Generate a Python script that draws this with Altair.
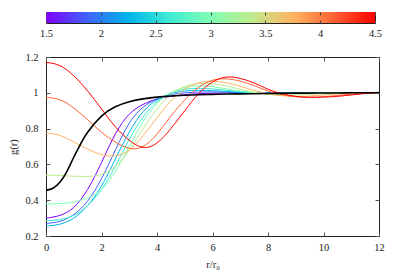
import altair as alt
import pandas as pd

# r grid (r/r0)
r = [0, 0.5, 1, 1.5, 2, 2.5, 3, 3.5, 4, 4.5, 5, 5.5, 6, 6.5, 7, 7.5, 8,
     8.5, 9, 9.5, 10, 10.5, 11, 11.5, 12]
r_black = [0, 0.25, 0.5, 0.75, 1, 1.25, 1.5, 2, 2.5, 3, 3.5, 4, 4.5, 5, 5.5, 6, 6.5, 7,
           7.5, 8, 8.5, 9, 9.5, 10, 10.5, 11, 11.5, 12]

params = [1.5, 1.875, 2.25, 2.625, 3.0, 3.375, 3.75, 4.125, 4.5]

g_15 = [0.30, 0.315, 0.36, 0.46, 0.61, 0.77, 0.88, 0.935, 0.965, 0.98, 0.99, 0.995,
        0.998, 0.999, 1.0, 1.0, 1.0, 1.0, 1.0, 1.0, 1.0, 1.0, 1.0, 1.0, 1.0]
g_1875 = [0.27, 0.282, 0.32, 0.395, 0.52, 0.68, 0.83, 0.92, 0.965, 0.99, 1.0, 1.004,
          1.005, 1.004, 1.002, 1.0, 1.0, 1.0, 1.0, 1.0, 1.0, 1.0, 1.0, 1.0, 1.0]
g_225 = [0.255, 0.266, 0.30, 0.37, 0.48, 0.63, 0.78, 0.895, 0.96, 0.995, 1.01, 1.013,
         1.012, 1.008, 1.003, 1.0, 0.999, 0.999, 1.0, 1.0, 1.0, 1.0, 1.0, 1.0, 1.0]
g_2625 = [0.285, 0.292, 0.315, 0.37, 0.46, 0.59, 0.74, 0.865, 0.95, 1.0, 1.02, 1.025,
          1.022, 1.014, 1.006, 1.0, 0.997, 0.997, 0.998, 0.999, 1.0, 1.0, 1.0, 1.0, 1.0]
g_30 = [0.38, 0.381, 0.39, 0.413, 0.46, 0.56, 0.70, 0.84, 0.94, 1.0, 1.03, 1.038,
        1.034, 1.022, 1.01, 1.0, 0.994, 0.993, 0.995, 0.997, 0.999, 1.0, 1.0, 1.0, 1.0]
g_3375 = [0.54, 0.538, 0.534, 0.533, 0.545, 0.59, 0.68, 0.80, 0.91, 0.99, 1.035, 1.052,
          1.05, 1.038, 1.02, 1.003, 0.992, 0.987, 0.988, 0.992, 0.996, 0.999, 1.0, 1.0, 1.0]
g_375 = [0.775, 0.762, 0.725, 0.685, 0.655, 0.648, 0.68, 0.76, 0.86, 0.955, 1.02, 1.055,
         1.065, 1.056, 1.037, 1.013, 0.995, 0.984, 0.98, 0.982, 0.988, 0.994, 0.998, 1.0, 1.0]
g_4125 = [0.975, 0.961, 0.915, 0.85, 0.78, 0.725, 0.69, 0.70, 0.77, 0.87, 0.96, 1.03,
          1.07, 1.078, 1.065, 1.04, 1.01, 0.99, 0.978, 0.975, 0.978, 0.985, 0.992, 0.997, 1.0]
g_45 = [1.17, 1.152, 1.095, 1.01, 0.91, 0.81, 0.735, 0.695, 0.72, 0.80, 0.90, 0.995,
        1.06, 1.088, 1.08, 1.055, 1.02, 0.995, 0.98, 0.975, 0.976, 0.98, 0.988, 0.996, 1.003]
g_black = [0.455, 0.467, 0.50, 0.56, 0.64, 0.715, 0.78, 0.87, 0.922, 0.95, 0.966, 0.976,
           0.982, 0.986, 0.989, 0.991, 0.993, 0.994, 0.995, 0.996, 0.997, 0.998, 0.998,
           0.999, 0.999, 1.0, 1.0, 1.0]

series = [g_15, g_1875, g_225, g_2625, g_30, g_3375, g_375, g_4125, g_45]

# gnuplot "rainbow" palette stops (styling)
palette = ["#8000ff", "#4062fa", "#00b4eb", "#40ebd4", "#80ffb4",
           "#bfeb8e", "#ffb462", "#ff6232", "#ff0000"]
stops_pos = [0, 0.125, 0.25, 0.375, 0.5, 0.625, 0.75, 0.875, 1.0]

cb_ticks = [1.5, 2, 2.5, 3, 3.5, 4, 4.5]
x_ticks = [0, 2, 4, 6, 8, 10, 12]
y_ticks = [0.2, 0.4, 0.6, 0.8, 1.0, 1.2]

rows = []
for p, gs in zip(params, series):
    for rv, gv in zip(r, gs):
        rows.append({"r": rv, "g": gv, "p": p})
df = pd.DataFrame(rows)
dfb = pd.DataFrame({"r": r_black, "g": g_black})

FONT = "Liberation Serif"
W, H = 333, 179
CBW, CBH = 329, 11

xscale = alt.Scale(domain=[0, 12], nice=False, zero=False)
yscale = alt.Scale(domain=[0.2, 1.2], nice=False, zero=False)

xaxis = alt.Axis(values=x_ticks, format="~g", title="r/r₀", domain=False, ticks=False,
                 grid=True, gridDash=[4, H - 8, 4, 400], gridColor="#555",
                 gridWidth=1, labelPadding=6, titlePadding=7,
                 labelOverlap=False, labelFlush=False)
yaxis = alt.Axis(values=y_ticks, format="~g", title="g(r)", domain=False, ticks=False,
                 grid=True, gridDash=[4, W - 8, 4, 400], gridColor="#555",
                 gridWidth=1, labelPadding=8, titlePadding=6,
                 labelOverlap=False, labelFlush=False)

lines = alt.Chart(df).mark_line(strokeWidth=1, interpolate="natural").encode(
    x=alt.X("r:Q", scale=xscale, axis=xaxis),
    y=alt.Y("g:Q", scale=yscale, axis=yaxis),
    color=alt.Color("p:Q", scale=alt.Scale(domain=[1.5, 4.5], range=palette), legend=None),
    detail="p:N",
)
black = alt.Chart(dfb).mark_line(strokeWidth=1.6, color="black", interpolate="natural").encode(
    x=alt.X("r:Q", scale=xscale, axis=xaxis),
    y=alt.Y("g:Q", scale=yscale, axis=yaxis),
)
main = alt.layer(lines, black).properties(width=W, height=H)

grad = alt.LinearGradient(
    gradient="linear",
    stops=[alt.GradientStop(color=c, offset=o) for c, o in zip(palette, stops_pos)],
    x1=0, x2=1, y1=0, y2=0,
)
cb = alt.Chart(pd.DataFrame({"a": [0]})).mark_rect(color=grad).encode(
    x=alt.X(datum=1.5, type="quantitative",
            scale=alt.Scale(domain=[1.5, 4.5], nice=False, zero=False),
            axis=alt.Axis(values=cb_ticks, format="~g", title=None, domain=False,
                          ticks=False, grid=True, gridDash=[3, CBH - 6, 3, 100],
                          gridColor="#444", gridWidth=1, labelPadding=5, zindex=1,
                          labelOverlap=False, labelFlush=False)),
    x2=alt.datum(4.5),
).properties(width=CBW, height=CBH)

chart = alt.vconcat(cb, main, spacing=12).properties(
    padding={"left": 0, "top": 3, "right": 5, "bottom": 0}
).configure_view(stroke="#222", strokeWidth=1).configure_axis(
    labelFont=FONT, titleFont=FONT, labelFontSize=10.5, titleFontSize=10.5,
    titleFontWeight="normal", labelColor="#222", titleColor="#222",
    labelOverlap=False,
)

chart.save("out.html", embed_options={"renderer": "svg", "actions": False})
